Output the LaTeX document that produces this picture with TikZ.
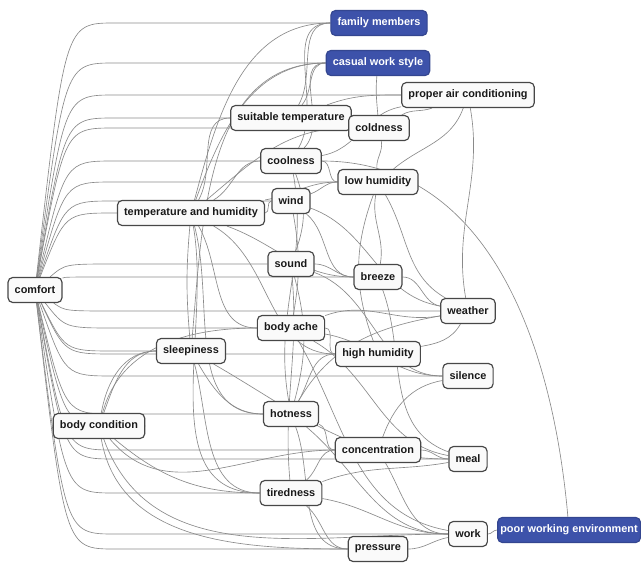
\documentclass[tikz,border=0pt]{standalone}
\usepackage{fontspec}
\setmainfont{Liberation Sans}
\usetikzlibrary{calc}
\definecolor{keyblue}{RGB}{61,82,170}
\definecolor{edgegray}{RGB}{138,138,138}
\pgfdeclarelayer{back}
\pgfsetlayers{back,main}

\begin{document}
\begin{tikzpicture}[x=0.03cm, y=-0.03cm,
	word/.style={draw=black!72, fill=black!2, rounded corners=4pt, line width=1pt, inner xsep=0.2cm, minimum height=0.75cm, font=\bfseries\fontsize{9.3}{11}\selectfont, text=black!90},
	key/.style={word, fill=keyblue, draw=keyblue!85!black, text=white},
	link/.style={draw=edgegray, line width=0.55pt},
	root/.style={link, to path={.. controls ($(\tikztostart|-\tikztotarget)+(30,0)$) .. ($(\tikztostart|-\tikztotarget)+(80,0)$) -- (\tikztotarget) \tikztonodes}}]
				\useasboundingbox (0,0) rectangle (641,565);
				% keywords
				\node[key] (fam)at(379, 23) {family members};
				\node[key] (casual)at(378, 63) {casual work style};
				\node[word] (pac)at(468, 95) {proper air conditioning};
				\node[word] (suit)at(291, 118) {suitable temperature};
				\node[word] (cold)at(379, 128) {coldness};
				\node[word] (cool)at(291, 161) {coolness};
				\node[word] (lowhum)at(378, 182) {low humidity};
				\node[word] (wind)at(291, 201) {wind};
				\node[word] (th)at(191, 213) {temperature and humidity};
				\node[word] (sound)at(291, 264) {sound};
				\node[word] (breeze)at(378, 277) {breeze};
				\node[word] (comfort)at(35, 290) {comfort};
				\node[word] (weather)at(468, 311) {weather};
				\node[word] (ache)at(291, 328) {body ache};
				\node[word] (sleep)at(191, 351) {sleepiness};
				\node[word] (highhum)at(378, 354) {high humidity};
				\node[word] (silence)at(468, 376) {silence};
				\node[word] (hot)at(291, 414) {hotness};
				\node[word] (bodycond)at(99, 426) {body condition};
				\node[word] (conc)at(378, 450) {concentration};
				\node[word] (meal)at(468, 459) {meal};
				\node[word] (tired)at(291, 493) {tiredness};
				\node[word] (work)at(468, 534) {work};
				\node[word] (pressure)at(378, 549) {pressure};
				\node[key, anchor=east, inner xsep=0.08cm] (poor)at(641, 530) {poor working environment};
				% co-occurrence links
				\begin{pgfonlayer}{back}
				\foreach \n in {fam,casual,pac,suit,cold,cool,wind,th,lowhum,sound,breeze,weather,ache,sleep,silence,hot,bodycond,highhum,conc,meal,tired,work,pressure}
					\draw[root] (comfort) to (\n);
				\foreach \a/\b/\p/\q in {th/fam/75/180, th/casual/70/180, th/suit/60/180, th/cold/40/180, th/cool/30/180, th/wind/0/180, th/lowhum/10/180, th/breeze/-20/180, th/highhum/-30/180, th/ache/-60/180, th/hot/-75/180, th/tired/-80/180,
					sleep/th/95/-95, sleep/casual/85/180, sleep/bodycond/180/80, bodycond/sleep/70/180, bodycond/ache/75/180, sleep/hot/-60/180, sleep/tired/-75/180, sleep/meal/-30/180,
					bodycond/conc/-50/180, bodycond/tired/-40/180, bodycond/work/-70/180, bodycond/pressure/-80/180,
					suit/cold/0/180, suit/pac/20/180, suit/fam/60/180, suit/casual/50/180, cold/pac/30/200, cold/casual/95/-95, cold/lowhum/-80/95, pac/lowhum/-110/40, pac/weather/-80/100,
					cool/fam/60/180, cool/casual/45/180, cool/pac/10/190, cool/lowhum/0/180, cool/sound/-70/70, cool/hot/-80/100, cool/poor/0/95,
					wind/lowhum/20/180, wind/breeze/-40/180, wind/weather/-20/170, wind/ache/-80/80, lowhum/weather/-60/150, lowhum/breeze/-100/80, lowhum/highhum/-110/110,
					sound/silence/-20/180, sound/breeze/0/180, sound/hot/-75/75, sound/tired/-85/95, breeze/weather/0/170, breeze/meal/-70/160,
					ache/highhum/0/180, ache/weather/20/190, ache/silence/-10/180, ache/meal/-30/170, ache/work/-60/170, highhum/weather/10/-120,
					hot/highhum/60/180, hot/weather/60/190, hot/conc/-20/180, hot/pressure/-70/180, hot/work/-40/180,
					conc/meal/0/180, conc/silence/70/190, conc/work/-60/180, tired/conc/40/180, tired/meal/20/190, tired/pressure/-40/180, tired/work/-10/180,
					pressure/work/0/190, work/poor/0/180}
					\draw[link] (\a) to[out=\p,in=\q] (\b);
				\end{pgfonlayer}
			\end{tikzpicture}
\end{document}
